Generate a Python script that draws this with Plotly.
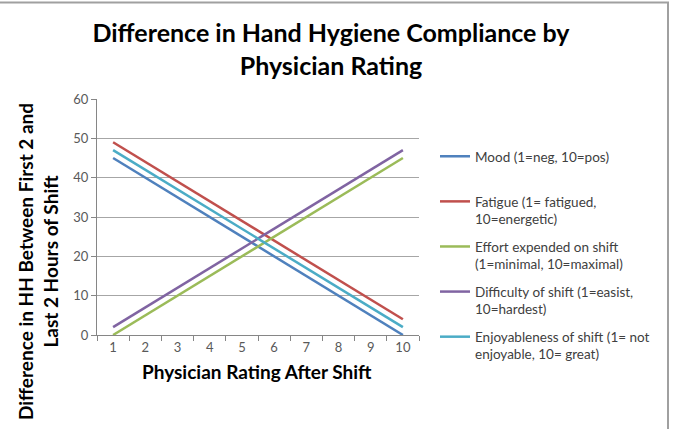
import plotly.graph_objects as go

ratings = ["1", "2", "3", "4", "5", "6", "7", "8", "9", "10"]
mood = [45, 40, 35, 30, 25, 20, 15, 10, 5, 0]
fatigue = [49, 44, 39, 34, 29, 24, 19, 14, 9, 4]
effort = [0, 5, 10, 15, 20, 25, 30, 35, 40, 45]
difficulty = [2, 7, 12, 17, 22, 27, 32, 37, 42, 47]
enjoy = [47, 42, 37, 32, 27, 22, 17, 12, 7, 2]

series = [
    ("Mood (1=neg, 10=pos)<br> ", mood, "#4F81BD"),
    ("Fatigue (1= fatigued,<br>10=energetic)", fatigue, "#C0504D"),
    ("Effort expended on shift<br>(1=minimal, 10=maximal)", effort, "#9BBB59"),
    ("Difficulty of shift (1=easist,<br>10=hardest)", difficulty, "#8064A2"),
    ("Enjoyableness of shift (1= not<br>enjoyable, 10= great)", enjoy, "#4BACC6"),
]

W, H = 674, 429
L, R, T, B = 97, 419, 99, 335
pw, ph = R - L, B - T

def px(x):
    return (x - L) / pw

def py(y):
    return (B - y) / ph

fig = go.Figure()
for i, (name, vals, col) in enumerate(series):
    fig.add_trace(go.Scatter(
        x=ratings, y=vals, name=name, mode="lines",
        line=dict(color=col, width=2.5), legendgroup=f"g{i}",
    ))

FONT = "Lato"
fig.update_layout(
    width=W, height=H,
    margin=dict(l=L, r=W - R, t=T, b=H - B),
    paper_bgcolor="white", plot_bgcolor="white",
    font=dict(family=FONT, color="#404040"),
    title=dict(
        text="Difference in Hand Hygiene Compliance by<br>Physician Rating",
        x=331 / W, xanchor="center", y=1 - 42 / H, yanchor="middle",
        font=dict(family=FONT, size=25, color="black", weight="bold"),
    ),
    xaxis=dict(
        type="category", tickson="boundaries", ticks="outside", ticklen=5,
        range=[-0.5, 9.5],
        tickcolor="#868686", showline=True, linecolor="#868686", linewidth=1,
        showgrid=False, tickfont=dict(size=13, color="#595959"),
    ),
    yaxis=dict(
        range=[0, 60], dtick=10, ticks="outside", ticklen=5, tickcolor="#868686",
        showline=True, linecolor="#868686", linewidth=1,
        showgrid=True, gridcolor="#a6a6a6", gridwidth=1, zeroline=False,
        tickfont=dict(size=13, color="#595959"),
    ),
    legend=dict(
        x=px(435), xanchor="left", y=py(141), yanchor="top",
        valign="top", tracegroupgap=7,
        font=dict(size=13.5, color="#404040"), bgcolor="rgba(0,0,0,0)",
    ),
    showlegend=True,
)

fig.add_annotation(
    text="Difference in HH Between First 2 and<br>Last 2 Hours of Shift",
    xref="paper", yref="paper", x=px(38), y=py(262),
    textangle=-90, showarrow=False, xanchor="center", yanchor="middle",
    font=dict(family=FONT, size=19, color="black", weight="bold"),
)
fig.add_annotation(
    text="Physician Rating After Shift",
    xref="paper", yref="paper", x=px(257), y=py(371),
    showarrow=False, xanchor="center", yanchor="middle",
    font=dict(family=FONT, size=19, color="black", weight="bold"),
)
fig.add_shape(
    type="rect", xref="paper", yref="paper",
    x0=px(-10), x1=px(668), y0=py(445), y1=py(2.5),
    line=dict(color="#a0a0a0", width=2), fillcolor="rgba(0,0,0,0)", layer="below",
)

fig.write_html("out.html")
